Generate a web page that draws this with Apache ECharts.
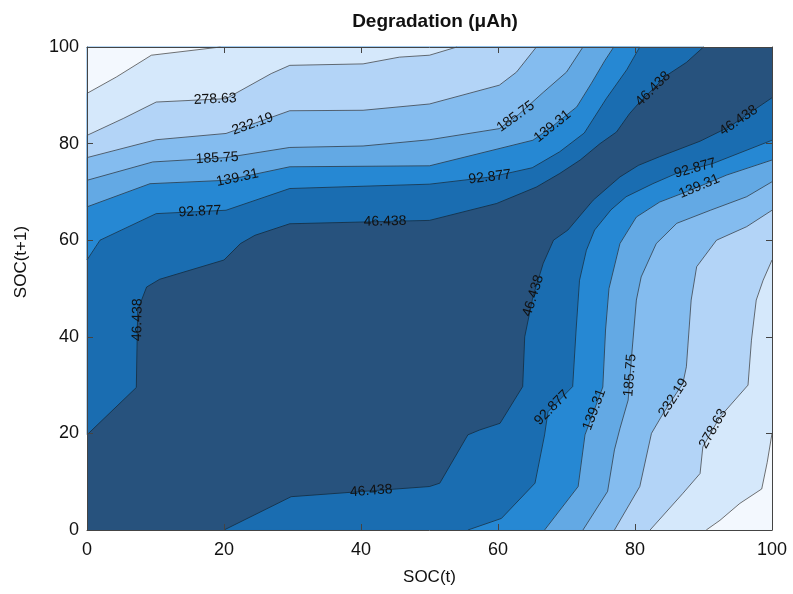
<!DOCTYPE html>
<html>
<head>
<meta charset="utf-8">
<title>Degradation contour</title>
<script src="https://cdn.jsdelivr.net/npm/echarts@6/dist/echarts.min.js"></script>
<style>
  html, body { margin: 0; padding: 0; background: #fff; }
  #chart { width: 793px; height: 594px; }
</style>
</head>
<body>
<div id="chart"></div>
<script>
// contour levels (the last one is drawn but not labelled in the original)
const levelNames = ['46.438', '92.877', '139.31', '185.75', '232.19', '278.63', ''];

// band colours, from below the first level to above the last one
const bandColors = ['#27527d', '#1a6db1', '#2688d3', '#63a9e4', '#84bcef', '#b3d4f7', '#d5e8fb', '#f3f8fe'];

// contour pieces, [SOC(t), SOC(t+1)]
// upper-left pieces run from the left edge to the top edge
const upperLeft = [
  [[0,19.7],[7.2,29.5],[7.4,45.5],[8.7,50.3],[10.6,51.9],[20,55.9],[22.4,59.3],[24.5,61],[29.6,63.4],[50,64.1],[59.8,67.6],[65.6,71],[69,73.8],[72,76.6],[74.9,80],[77.3,82.4],[79.2,86.2],[80.7,88.6],[84.6,94.1],[87.5,96.8],[90,100]],
  [[0,55.9],[1.9,60],[10.1,65.5],[20.3,66.2],[29.6,70.7],[50,71.6],[59,73.1],[65,75],[69,78.3],[72.6,82.2],[75.8,89.3],[78.8,95.3],[80.7,100]],
  [[0,66.9],[9.2,71.7],[20.3,72.4],[29.6,75.2],[50,75.4],[65.1,80.7],[67.8,83.4],[71.5,87.6],[73.6,92.4],[75.6,97.2],[76.9,100]],
  [[0,72.4],[9.6,76.2],[20.3,77.1],[29.6,79.2],[40.3,79.5],[50,80.8],[60.2,83.1],[63,86],[66.6,90.6],[70,94.8],[72.4,100]],
  [[0,77.1],[10.1,80.8],[20.3,82.1],[29.6,86.8],[40.3,86.9],[50,88.2],[60.2,92.1],[62.7,94.8],[65.6,100]],
  [[0,81.7],[5.3,85.2],[10.1,88.6],[20.3,89.3],[26.9,94.5],[29.6,96.2],[40.3,96.5],[45.6,97.9],[50,98.3],[54,100]],
  [[0,90.4],[4.3,93.8],[9.4,98.3],[19.5,100]]
];

// lower-right pieces run from the bottom edge to the right edge
const lowerRight = [
  [[20,0],[29.8,6.9],[50,9],[51.5,9.7],[55.6,19.7],[57.3,20.7],[60.3,22.1],[63.6,29.7],[63.9,40],[65.1,48.3],[66.6,55.2],[68.1,60],[70.2,62.1],[73.9,68.3],[77.8,73.1],[80.5,75.5],[83.6,77.3],[89.5,80.5],[93.8,83.5],[100,89.5]],
  [[55.6,0],[60.5,2.4],[65.4,9.7],[66.8,19.7],[67.3,24.5],[70.9,29.7],[71.4,41.4],[71.9,51.7],[72.9,57.9],[74.1,62.1],[76.5,66.3],[78.7,69],[82.6,71.7],[86,73.8],[91.4,75.9],[100,80.7]],
  [[66.8,0],[71.7,9],[72.7,19.7],[75.3,29.6],[75.7,41.4],[76.2,50],[77.8,59.3],[80.2,64.8],[83.6,67.9],[88,70.3],[93.4,73.5],[100,76.6]],
  [[72.4,0],[76,8],[77,16.6],[77.8,21],[79,26.9],[79.5,35.9],[80.2,47.6],[80.9,52.4],[83.1,59.3],[86.1,63.5],[91,66.2],[96.3,69],[100,72.1]],
  [[77,0],[80.7,9],[82.4,20],[84.1,24.1],[87,30.4],[87.5,33.8],[88.2,47.6],[89,54.5],[91.9,60],[96.3,62.8],[100,66.2]],
  [[82.2,0],[87,7.6],[89.5,11.7],[89.9,17.2],[92.4,23.4],[96.5,30],[97,39.3],[97.7,47.6],[98.7,51.7],[100,55.9]],
  [[90.4,0],[92.4,2],[95.3,5.5],[98.5,8.5],[99.3,14],[100,20]]
];

// where the level labels sit: level index, piece, point they snap to
const labelAnchors = [
  { lv: 5, side: 'ul', near: [18.7, 89.5] },
  { lv: 4, side: 'ul', near: [24.2, 84] },
  { lv: 3, side: 'ul', near: [19, 77] },
  { lv: 2, side: 'ul', near: [22, 72.6] },
  { lv: 1, side: 'ul', near: [16.5, 66] },
  { lv: 0, side: 'ul', near: [43.5, 64] },
  { lv: 0, side: 'ul', near: [7.4, 43.5] },
  { lv: 1, side: 'ul', near: [58.8, 73] },
  { lv: 3, side: 'ul', near: [62.9, 85] },
  { lv: 2, side: 'ul', near: [68, 83.5] },
  { lv: 0, side: 'ul', near: [82.5, 91.5] },
  { lv: 0, side: 'lr', near: [95, 85] },
  { lv: 1, side: 'lr', near: [88.7, 75.3] },
  { lv: 2, side: 'lr', near: [89.4, 71] },
  { lv: 0, side: 'lr', near: [64.9, 48.6] },
  { lv: 0, side: 'lr', near: [41.5, 8] },
  { lv: 1, side: 'lr', near: [68.8, 24] },
  { lv: 2, side: 'lr', near: [73.9, 25] },
  { lv: 3, side: 'lr', near: [79.5, 32] },
  { lv: 4, side: 'lr', near: [85.8, 27.2] },
  { lv: 5, side: 'lr', near: [90.9, 21.4] }
];

const axisTicks = [0, 20, 40, 60, 80, 100];

// filled regions, painted from the lowest level up so higher bands cover lower ones
const regions = [];
levelNames.forEach((name, i) => {
  regions.push({ line: upperLeft[i], pts: upperLeft[i].concat([[0, 100]]), color: bandColors[i + 1] });
  regions.push({ line: lowerRight[i], pts: lowerRight[i].concat([[100, 0]]), color: bandColors[i + 1] });
});

const chart = echarts.init(document.getElementById('chart'));

const textFont = '"Liberation Sans", Arial, sans-serif';
const frameColor = '#444';

function frameAxis(extra) {
  return Object.assign({
    type: 'value',
    min: axisTicks[0],
    max: axisTicks[axisTicks.length - 1],
    interval: axisTicks[1] - axisTicks[0],
    z: 10,
    axisLine: { show: true, onZero: false, lineStyle: { color: frameColor, width: 1 } },
    axisTick: { show: true, inside: true, length: 6, lineStyle: { color: frameColor } },
    splitLine: { show: false }
  }, extra);
}

const tickLabel = { color: '#111', fontSize: 18, fontFamily: textFont };

function nearestOnLine(pts, target) {
  let best = null;
  for (let k = 0; k < pts.length - 1; k++) {
    const a = pts[k], b = pts[k + 1];
    const dx = b[0] - a[0], dy = b[1] - a[1];
    const len2 = dx * dx + dy * dy || 1;
    let t = ((target[0] - a[0]) * dx + (target[1] - a[1]) * dy) / len2;
    t = Math.max(0, Math.min(1, t));
    const px = a[0] + t * dx, py = a[1] + t * dy;
    const d = (px - target[0]) ** 2 + (py - target[1]) ** 2;
    if (!best || d < best.d) best = { d, x: px, y: py, dx, dy };
  }
  return best;
}

const option = {
  backgroundColor: '#fff',
  animation: false,
  title: {
    text: 'Degradation (μAh)',
    left: 430,
    textAlign: 'center',
    top: 7,
    textStyle: { fontSize: 19, fontWeight: 'bold', color: '#111', fontFamily: textFont }
  },
  grid: {
    left: 87, right: 21, top: 47, bottom: 64,
    show: true,
    backgroundColor: bandColors[0],
    borderWidth: 0
  },
  xAxis: [
    frameAxis({
      position: 'bottom',
      name: 'SOC(t)',
      nameLocation: 'middle',
      nameGap: 39,
      nameTextStyle: { color: '#111', fontSize: 17, fontFamily: textFont },
      axisLabel: Object.assign({ margin: 11 }, tickLabel)
    }),
    frameAxis({ position: 'top', axisLabel: { show: false } })
  ],
  yAxis: [
    frameAxis({ position: 'left', axisLabel: Object.assign({ margin: 8 }, tickLabel) }),
    frameAxis({ position: 'right', axisLabel: { show: false } })
  ],
  graphic: [{
    type: 'text',
    x: 21,
    y: 262,
    rotation: Math.PI / 2,
    style: {
      text: 'SOC(t+1)',
      font: '17px ' + textFont,
      fill: '#111',
      align: 'center', verticalAlign: 'middle',
      textAlign: 'center', textVerticalAlign: 'middle'
    }
  }],
  series: [
    {
      name: 'bands',
      type: 'custom',
      silent: true,
      z: 2,
      data: regions.map((r, i) => [r.line[0][0], r.line[0][1], i]),
      renderItem: function (params, api) {
        const r = regions[api.value(2)];
        return {
          type: 'polygon',
          shape: { points: r.pts.map(p => api.coord(p)) },
          style: { fill: r.color, stroke: r.color, lineWidth: 0.6 }
        };
      }
    },
    {
      name: 'contours',
      type: 'custom',
      silent: true,
      z: 3,
      data: regions.map((r, i) => [r.line[0][0], r.line[0][1], i]),
      renderItem: function (params, api) {
        const r = regions[api.value(2)];
        return {
          type: 'polyline',
          shape: { points: r.line.map(p => api.coord(p)) },
          style: { stroke: 'rgba(20,20,20,0.75)', lineWidth: 0.8, fill: null }
        };
      }
    },
    {
      name: 'labels',
      type: 'custom',
      silent: true,
      z: 4,
      data: labelAnchors.map((a, i) => [a.near[0], a.near[1], i]),
      renderItem: function (params, api) {
        const a = labelAnchors[api.value(2)];
        const line = a.side === 'ul' ? upperLeft[a.lv] : lowerRight[a.lv];
        const pts = line.map(p => api.coord(p));
        const hit = nearestOnLine(pts, api.coord(a.near));
        let ang = Math.atan2(-hit.dy, hit.dx);
        if (ang > Math.PI / 2) ang -= Math.PI;
        if (ang < -Math.PI / 2) ang += Math.PI;
        return {
          type: 'text',
          x: hit.x,
          y: hit.y,
          rotation: ang,
          style: {
            text: levelNames[a.lv],
            font: '14px ' + textFont,
            fill: '#111',
            align: 'center', verticalAlign: 'middle',
            textAlign: 'center', textVerticalAlign: 'middle'
          }
        };
      }
    }
  ]
};

chart.setOption(option);
</script>
</body>
</html>
